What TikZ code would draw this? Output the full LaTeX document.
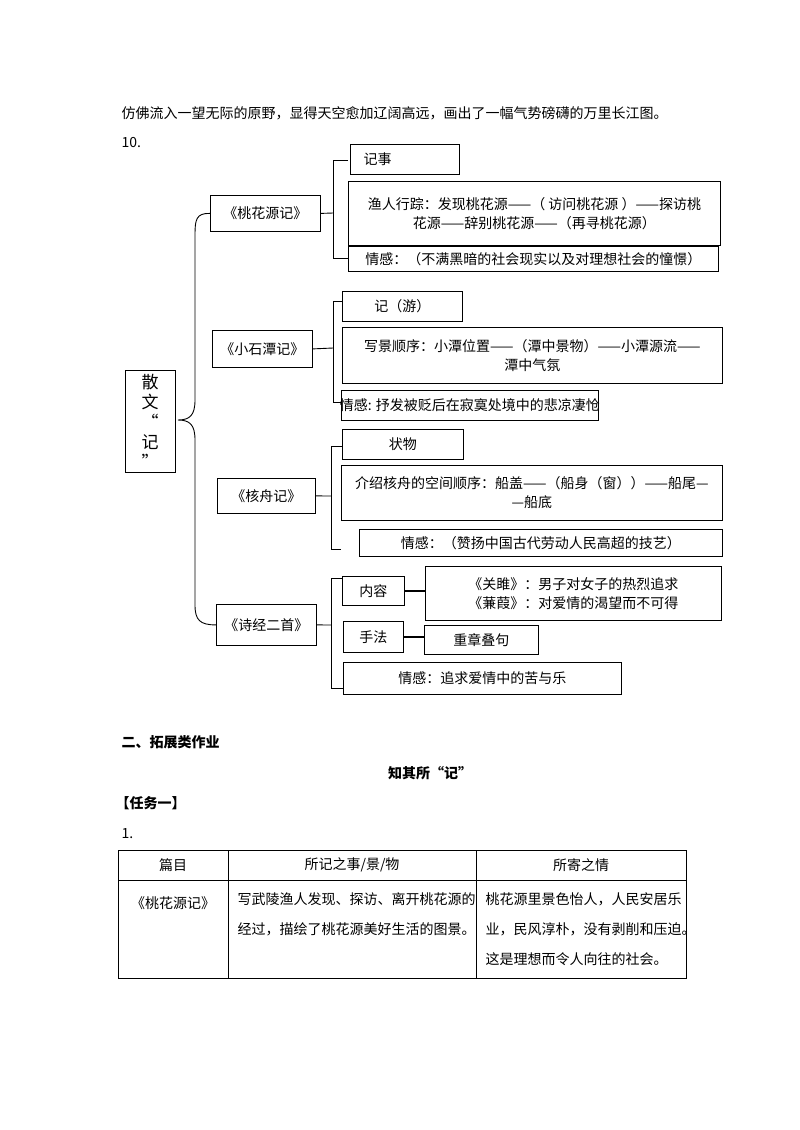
\documentclass[tikz,border=0pt]{standalone}
\usepackage{fontspec}
\setmainfont{Noto Sans CJK SC}
\begin{document}
\begin{tikzpicture}[x=1pt,y=-1pt,
  bx/.style={draw,line width=0.8pt,inner sep=0pt,anchor=north west},
  tx/.style={font=\fontsize{14}{19}\selectfont,align=center},
  ln/.style={line width=0.9pt},
  hd/.style={font=\fontsize{14}{18}\selectfont\bfseries,anchor=west}]
\useasboundingbox (0,0) rectangle (800,1130);
\node[anchor=west,tx] (top) at (118,113) {仿佛流入一望无际的原野，显得天空愈加辽阔高远，画出了一幅气势磅礴的万里长江图。};
\node[anchor=west,tx] (n10) at (118,143) {10.};
\newcommand{\mybox}[6]{\node[bx,minimum width=#4-#2,minimum height=#5-#3] (#1) at (#2,#3) {}; \node[tx] at (#1.center) {#6};}
\mybox{sw}{125}{370}{175}{472}{}
\node[tx,align=center,font=\fontsize{17}{20}\selectfont] (swt) at (150,421) {散\\文\\“\\记\\”};
% branch 1
\mybox{t1}{210}{195}{320}{231}{《桃花源记》}
\mybox{a1}{350}{144}{459}{174}{}
\node[tx,anchor=west] at (360,159) {记事};
\mybox{a2}{348}{181}{720}{245}{渔人行踪：发现桃花源——（ 访问桃花源 ）——探访桃\\花源——辞别桃花源——（再寻桃花源）}
\mybox{a3}{348}{246}{718}{271}{情感：（不满黑暗的社会现实以及对理想社会的憧憬）}
\draw[ln] (t1.east) -- (333,213);
\draw[ln] (348,160) -- (333,160) -- (333,258) -- (348,258);
% branch 2
\mybox{t2}{212}{330}{312}{367}{《小石潭记》}
\mybox{b1}{342}{291}{462}{321}{记（游）}
\mybox{b2}{342}{327}{722}{383}{写景顺序：小潭位置——（潭中景物）——小潭源流——\\潭中气氛}
\mybox{b3}{341}{390}{598}{420}{情感: 抒发被贬后在寂寞处境中的悲凉凄怆}
\draw[ln] (t2.east) -- (333,348);
\draw[ln] (342,301) -- (333,301) -- (333,402) -- (341,402);
% branch 3
\mybox{t3}{217}{478}{315}{513}{《核舟记》}
\mybox{c1}{342}{429}{463}{459}{状物}
\mybox{c2}{341}{465}{722}{520}{介绍核舟的空间顺序：船盖——（船身（窗））——船尾—\\—船底}
\mybox{c3}{359}{529}{722}{556}{情感：（赞扬中国古代劳动人民高超的技艺）}
\draw[ln] (t3.east) -- (331,496);
\draw[ln] (342,446) -- (331,446) -- (331,549) -- (341,549);
% branch 4
\mybox{t4}{216}{604}{316}{645}{《诗经二首》}
\mybox{d1}{342}{576}{404}{605}{内容}
\mybox{d1b}{425}{566}{721}{620}{《关雎》：男子对女子的热烈追求\\《蒹葭》：对爱情的渴望而不可得}
\mybox{d2}{343}{621}{403}{652}{手法}
\mybox{d2b}{424}{625}{538}{654}{重章叠句}
\mybox{d3}{343}{662}{621}{694}{情感：追求爱情中的苦与乐}
\draw[ln] (t4.east) -- (331,625);
\draw[ln] (342,578) -- (331,578) -- (331,688) -- (343,688);
\draw[line width=1.5pt] (d1.east) -- (d1b.west|-d1.east);
\draw[line width=1.5pt] (d2.east) -- (d2b.west|-d2.east);
% big brace
\draw[ln] (t1.west) .. controls (196,213) and (195,220) .. (195,235) -- (195,400)
  .. controls (195,415) and (190,420) .. (178,420)
  .. controls (190,420) and (195,425) .. (195,440) -- (195,605)
  .. controls (195,620) and (200,625) .. (t4.west);
% lower section
\node[hd] (h1) at (118,742) {二、拓展类作业};
\node[font=\fontsize{14}{18}\selectfont\bfseries] (h2) at (430,773) {知其所“记”};
\node[hd] (h3) at (112,803) {【任务一】};
\node[anchor=west,tx] (h4) at (118,834) {1.};
\draw[line width=0.6pt] (118,850) rectangle (686,978);
\draw[line width=0.6pt] (118,880) -- (686,880) (228,850) -- (228,978) (476,850) -- (476,978);
\node[tx] (c11) at (173,865) {篇目};
\node[tx] (c12) at (352,865) {所记之事/景/物};
\node[tx] (c13) at (581,865) {所寄之情};
\node[tx] (c21) at (173,903) {《桃花源记》};
\node[tx,anchor=north west,align=left,font=\fontsize{14}{30}\selectfont] (c22) at (234,889) {写武陵渔人发现、探访、离开桃花源的\\经过，描绘了桃花源美好生活的图景。};
\node[tx,anchor=north west,align=left,font=\fontsize{14}{30}\selectfont] (c23) at (482,889) {桃花源里景色怡人，人民安居乐\\业，民风淳朴，没有剥削和压迫。\\这是理想而令人向往的社会。};
\end{tikzpicture}
\end{document}
